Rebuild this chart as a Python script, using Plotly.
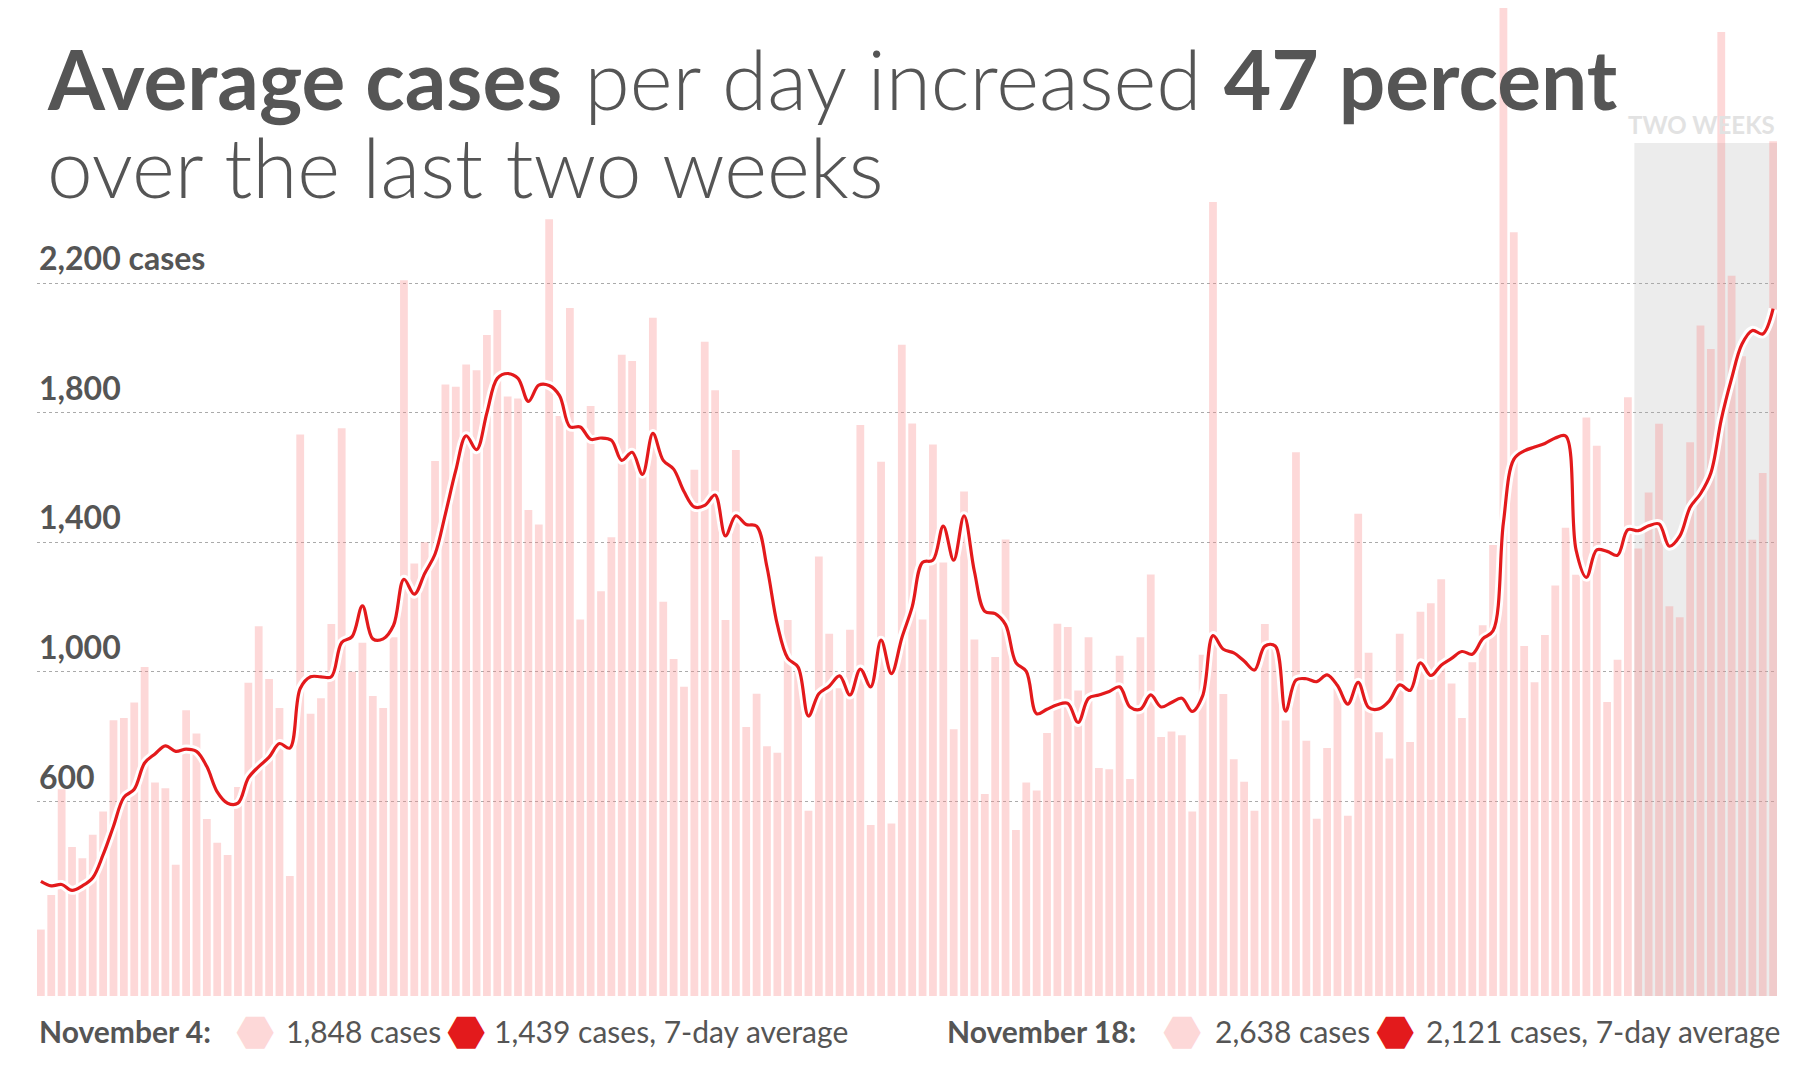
import pandas as pd
import plotly.graph_objects as go

# daily new cases, June 4 - November 18
cases = [205, 312, 638, 460, 425, 498, 569, 851, 858, 906, 1015, 659, 641, 405, 882, 810, 546, 473, 435, 645,
         967, 1141, 978, 889, 370, 1733, 871, 919, 1148, 1752, 1001, 1090, 926, 889, 1107, 2209, 1335, 1400, 1651, 1887,
         1880, 1949, 1931, 2040, 2117, 1850, 1844, 1500, 1455, 2397, 1790, 2123, 1162, 1821, 1249, 1416, 1979, 1960, 1620, 2093,
         1217, 1040, 954, 1624, 2019, 1869, 1160, 1685, 830, 933, 771, 751, 1160, 1000, 572, 1356, 1118, 950, 1130, 1762,
         528, 1649, 532, 2010, 1767, 1162, 1702, 1338, 823, 1557, 1100, 623, 1046, 1409, 512, 659, 634, 812, 1149, 1139,
         943, 1107, 704, 700, 1050, 670, 1107, 1301, 799, 816, 805, 569, 1053, 2450, 932, 731, 661, 572, 1148, 1080,
         850, 1678, 788, 547, 765, 950, 556, 1488, 1059, 814, 733, 1118, 784, 1186, 1212, 1286, 964, 858, 1030, 1144,
         1392, 3100, 2357, 1080, 968, 1114, 1267, 1445, 1300, 1785, 1698, 907, 1038, 1848, 1381, 1554, 1766, 1203, 1169, 1709,
         2069, 1997, 2975, 2223, 1974, 1408, 1614, 2638]

avg7 = [354, 340, 344, 326, 340, 365, 436, 524, 613, 638, 719, 747, 772, 755, 762, 755, 708, 630, 595, 595,
        673, 708, 737, 779, 765, 949, 985, 985, 985, 1091, 1109, 1204, 1102, 1102, 1144, 1286, 1240, 1304, 1364, 1488,
        1622, 1729, 1686, 1800, 1906, 1921, 1906, 1835, 1885, 1884, 1853, 1757, 1756, 1718, 1722, 1715, 1653, 1678, 1610, 1736,
        1653, 1626, 1557, 1509, 1514, 1546, 1420, 1482, 1455, 1450, 1324, 1146, 1043, 1015, 864, 933, 956, 988, 929, 1009,
        954, 1098, 995, 1105, 1201, 1338, 1345, 1450, 1345, 1482, 1310, 1187, 1180, 1146, 1029, 1002, 871, 885, 899, 903,
        844, 919, 929, 940, 954, 892, 885, 929, 892, 906, 919, 878, 926, 1112, 1070, 1059, 1034, 1006, 1080, 1080,
        879, 975, 979, 970, 991, 958, 901, 968, 890, 886, 911, 960, 943, 1028, 989, 1021, 1042, 1063, 1055, 1102,
        1127, 1461, 1656, 1682, 1694, 1705, 1722, 1728, 1377, 1292, 1377, 1372, 1360, 1439, 1436, 1451, 1457, 1388, 1419, 1508,
        1550, 1614, 1779, 1906, 2012, 2054, 2043, 2121]

grid_vals = [600, 1000, 1400, 1800, 2200]
grid_labels = ["600", "1,000", "1,400", "1,800", "2,200 cases"]

dates = pd.date_range(end="2020-11-18", periods=len(cases), freq="D")
i_nov4 = 153

GRAY = "#555555"
RED = "#e31a1c"
W, H = 1800, 1080
L, R, T, B = 29, 31, 0, 92
PH = H - T - B  # plot height in px
YMAX = 3049
half = pd.Timedelta(hours=9)


def px(x):
    return (x - L) / (W - L - R)


def py(y):
    return 1 - (y - T) / PH


fig = go.Figure()

# shaded last two weeks
fig.add_vrect(x0=dates[-14] - half, x1=dates[-1] + half, y0=0, y1=py(135),
              fillcolor="#ececec", line_width=0, layer="below")

fig.add_bar(x=dates, y=cases, marker=dict(color="rgba(250,140,140,0.34)", line_width=0),
            hoverinfo="x+y")
fig.add_scatter(x=dates, y=avg7, mode="lines", line=dict(color="white", width=9, shape="spline"),
                hoverinfo="skip")
fig.add_scatter(x=dates, y=avg7, mode="lines", line=dict(color=RED, width=3.2, shape="spline"),
                hoverinfo="x+y")

ann = []
for v, t in zip(grid_vals, grid_labels):
    ann.append(dict(x=0, xref="paper", y=v, yref="y", text=f"<b>{t}</b>", showarrow=False,
                    xanchor="left", yanchor="bottom", yshift=4,
                    font=dict(family="Lato", size=32, color=GRAY)))

title_font = dict(family="Lato", size=82, color=GRAY, weight=300)
ann.append(dict(x=px(37), xref="paper", y=py(70), yref="paper",
                text="<b>Average cases</b> per day increased <b>47 percent</b>",
                showarrow=False, xanchor="left", yanchor="middle", font=title_font))
ann.append(dict(x=px(37), xref="paper", y=py(158), yref="paper",
                text="over the last two weeks",
                showarrow=False, xanchor="left", yanchor="middle", font=title_font))
ann.append(dict(x=1, xref="paper", y=py(116), yref="paper", text="<b>TWO WEEKS</b>",
                showarrow=False, xanchor="right", yanchor="middle",
                font=dict(family="Lato", size=24, color="#e2e2e2")))

# legend row
ly = py(1023)
legend = [
    (29, f"<b>{dates[i_nov4].strftime('%B')} {dates[i_nov4].day}:</b>", "text"),
    (247, "⬣", "#fdd8d8"),
    (276, f"{cases[i_nov4]:,} cases", "text"),
    (458, "⬣", RED),
    (484, f"{avg7[i_nov4]:,} cases, 7-day average", "text"),
    (937, f"<b>{dates[-1].strftime('%B')} {dates[-1].day}:</b>", "text"),
    (1174, "⬣", "#fdd8d8"),
    (1205, f"{cases[-1]:,} cases", "text"),
    (1387, "⬣", RED),
    (1416, f"{avg7[-1]:,} cases, 7-day average", "text"),
]
for x, t, c in legend:
    if c == "text":
        ann.append(dict(x=px(x), xref="paper", y=ly, yref="paper", text=t, showarrow=False,
                        xanchor="left", yanchor="middle",
                        font=dict(family="Lato", size=30, color=GRAY)))
    else:
        ann.append(dict(x=px(x), xref="paper", y=ly, yref="paper", text=t, showarrow=False,
                        xanchor="center", yanchor="middle",
                        font=dict(family="DejaVu Sans", size=44, color=c)))

fig.update_layout(
    width=W, height=H, margin=dict(l=L, r=R, t=T, b=B),
    plot_bgcolor="white", paper_bgcolor="white",
    showlegend=False, bargap=0.25, annotations=ann,
    xaxis=dict(visible=False, range=[dates[0] - half, dates[-1] + half]),
    yaxis=dict(range=[0, YMAX], tickvals=grid_vals, showticklabels=False, showgrid=True,
               gridcolor="#aaaaaa", griddash="dot", gridwidth=1, zeroline=False),
)

fig.write_html("out.html")
